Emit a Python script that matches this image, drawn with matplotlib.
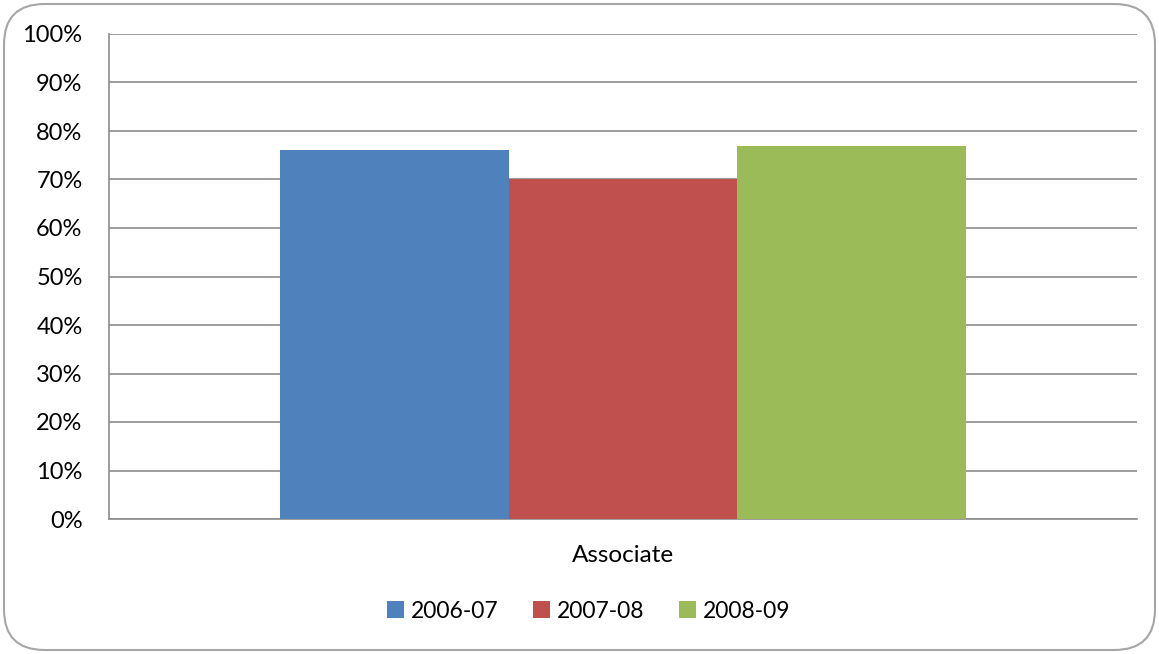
import matplotlib.pyplot as plt
import numpy as np
from matplotlib.patches import FancyBboxPatch, Patch

# data
categories = ["Associate"]
years = ["2006-07", "2007-08", "2008-09"]
values = [76, 70, 77]
colors = ["#4f81bd", "#c0504d", "#9bbb59"]

plt.rcParams["font.family"] = ["Lato", "DejaVu Sans"]

fig = plt.figure(figsize=(11.59, 6.54), dpi=100)
ax = fig.add_axes([109/1159, 1 - 519/654, (1137 - 109)/1159, (519 - 34)/654])

# rounded outer frame like the excel chart area
frame = FancyBboxPatch((4/1159, 4/654), 1151/1159, 646/654,
                       boxstyle="round,pad=0,rounding_size=0.035",
                       transform=fig.transFigure, facecolor="none",
                       edgecolor="#a6a6a6", linewidth=1.5,
                       mutation_aspect=1159/654)
fig.patches.append(frame)

x = np.arange(len(categories))
w = 0.2222
for i, (yr, v, c) in enumerate(zip(years, values, colors)):
    ax.bar(x + (i - 1) * w, [v], width=w, color=c, label=yr, zorder=3)

ax.set_xlim(-0.5, 0.5)
ax.set_ylim(0, 100)
ax.set_yticks(range(0, 101, 10))
ax.set_yticklabels([f"{t}%" for t in range(0, 101, 10)], fontsize=17)
ax.yaxis.grid(True, color="#8c8c8c", linewidth=1.2, zorder=0)
ax.set_xticks(x)
ax.set_xticklabels(categories, fontsize=17.5)
ax.tick_params(axis="y", length=0, pad=19)
ax.tick_params(axis="x", length=0, pad=19)
for s in ["top", "right"]:
    ax.spines[s].set_visible(False)
for s in ["left", "bottom"]:
    ax.spines[s].set_color("#8c8c8c")
    ax.spines[s].set_linewidth(1.2)

handles = [Patch(facecolor=c, label=yr) for yr, c in zip(years, colors)]
fig.legend(handles=handles, loc="center", bbox_to_anchor=(589/1159, 1 - 611/654),
           ncol=3, frameon=False, fontsize=16.5, handlelength=0.75, handleheight=0.75,
           handletextpad=0.3, columnspacing=1.5)

fig.savefig("out.png", dpi=100)
